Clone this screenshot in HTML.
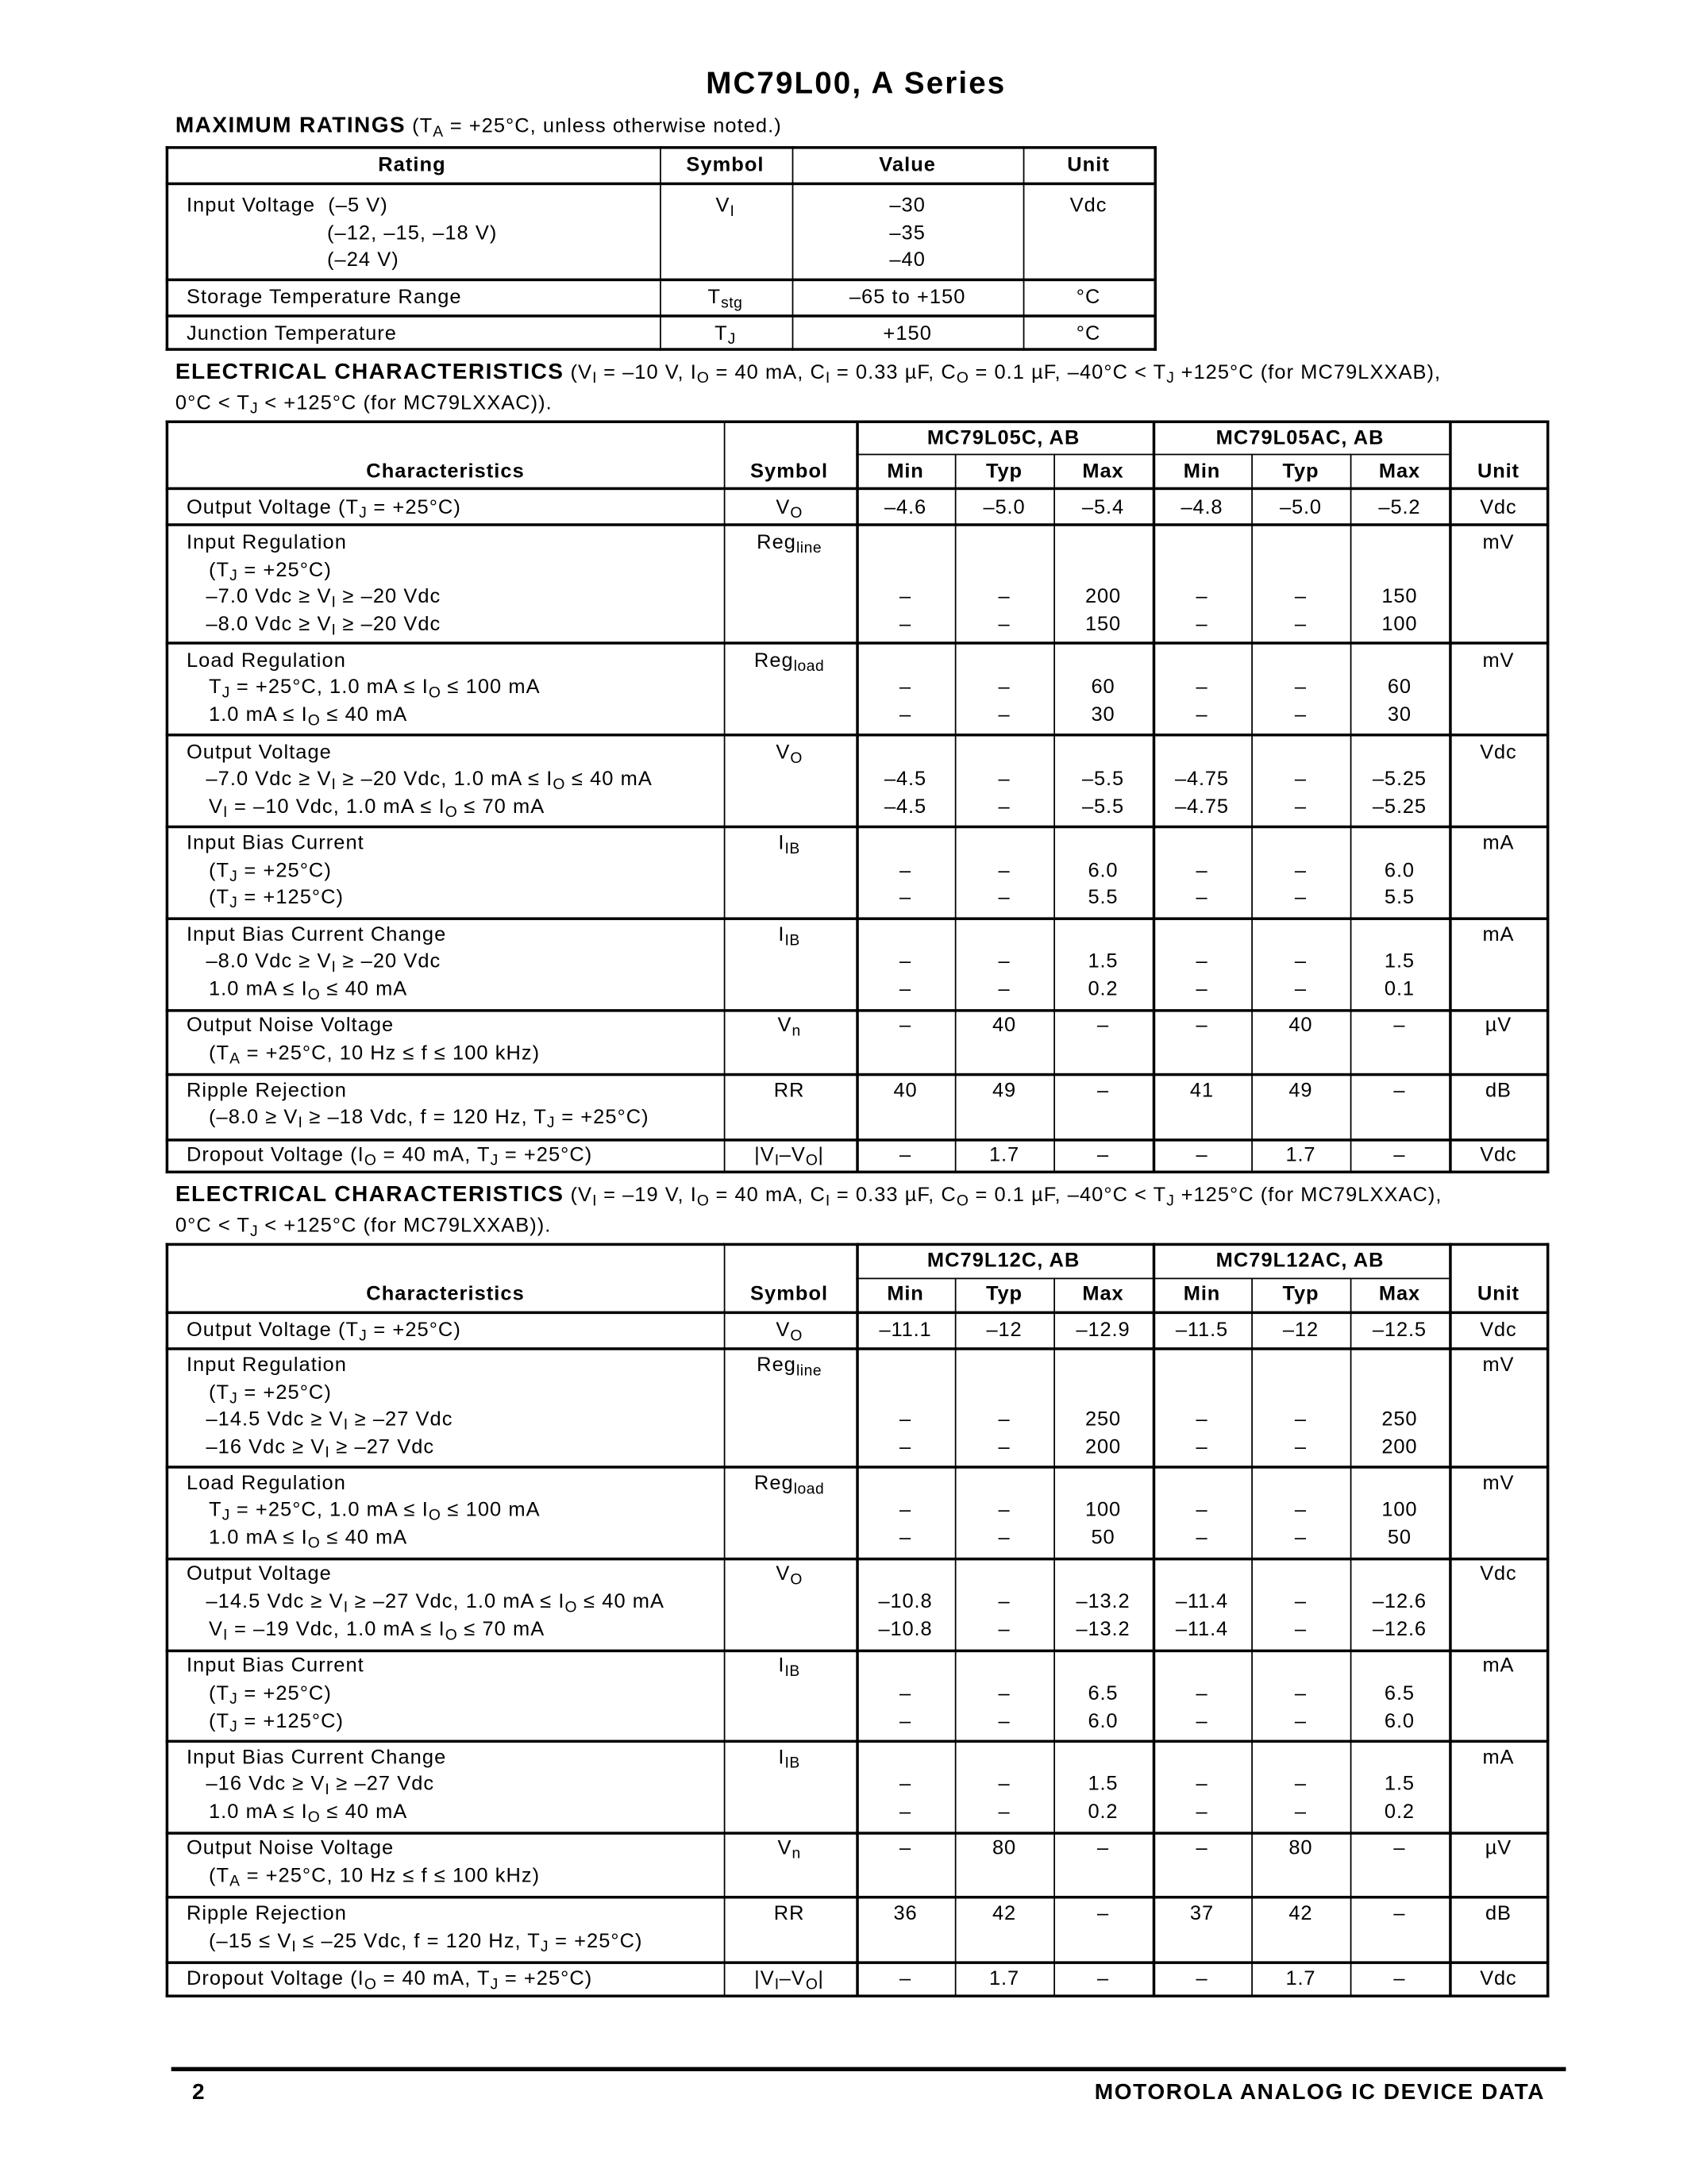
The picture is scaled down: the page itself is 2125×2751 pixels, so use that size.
<!DOCTYPE html>
<html><head><meta charset="utf-8">
<style>
html,body{margin:0;padding:0;background:#fff;}
body{width:2125px;height:2750px;overflow:hidden;position:relative;}
#p{position:absolute;left:0;top:0;width:1212px;height:1569px;transform:scale(1.7533);transform-origin:0 0;font-family:"Liberation Sans",Arial,sans-serif;color:#000;}
.t{position:absolute;white-space:nowrap;line-height:20px;height:20px;font-size:14.5px;letter-spacing:0.6px;}
.c{transform:translateX(-50%);}
.b{font-weight:bold;}
.h{position:absolute;height:1.3px;background:#000;}
.H{position:absolute;height:1.9px;background:#000;}
.v{position:absolute;width:1px;background:#000;}
.V{position:absolute;width:1.5px;background:#000;}
sub{font-size:11px;vertical-align:-3px;line-height:0;letter-spacing:0.3px;}
.r{position:absolute;left:615px;display:flex;line-height:20px;height:20px;font-size:14.5px;letter-spacing:0.5px;white-space:nowrap;}
.r span{width:71px;text-align:center;display:block;}
</style></head><body><div id="p">

<div class="t b c" style="left:615px;top:47px;font-size:22px;letter-spacing:1.2px;line-height:26px;height:26px;">MC79L00, A Series</div>

<div class="t" style="left:126px;top:81px;"><span class="b" style="font-size:16px;letter-spacing:0.8px;">MAXIMUM RATINGS</span> (T<sub>A</sub> = +25°C, unless otherwise noted.)</div>

<!-- Table 1 -->
<div class="H" style="left:119px;top:105px;width:712px;"></div>
<div class="H" style="left:119px;top:131px;width:712px;"></div>
<div class="H" style="left:119px;top:200px;width:712px;"></div>
<div class="H" style="left:119px;top:226px;width:712px;"></div>
<div class="H" style="left:119px;top:250px;width:712px;"></div>
<div class="V" style="left:119px;top:105px;height:147px;"></div>
<div class="v" style="left:474px;top:105px;height:147px;"></div>
<div class="v" style="left:569px;top:105px;height:147px;"></div>
<div class="v" style="left:735px;top:105px;height:147px;"></div>
<div class="V" style="left:829px;top:105px;height:147px;"></div>

<div class="t b c" style="left:296px;top:109px;">Rating</div>
<div class="t b c" style="left:521px;top:109px;">Symbol</div>
<div class="t b c" style="left:652px;top:109px;">Value</div>
<div class="t b c" style="left:782px;top:109px;">Unit</div>

<div class="t" style="left:134px;top:138px;">Input Voltage&nbsp; (–5 V)</div>
<div class="t" style="left:235px;top:158px;">(–12, –15, –18 V)</div>
<div class="t" style="left:235px;top:177px;">(–24 V)</div>
<div class="t c" style="left:521px;top:138px;">V<sub>I</sub></div>
<div class="t c" style="left:652px;top:138px;">–30</div>
<div class="t c" style="left:652px;top:158px;">–35</div>
<div class="t c" style="left:652px;top:177px;">–40</div>
<div class="t c" style="left:782px;top:138px;">Vdc</div>

<div class="t" style="left:134px;top:204px;">Storage Temperature Range</div>
<div class="t c" style="left:521px;top:204px;">T<sub>stg</sub></div>
<div class="t c" style="left:652px;top:204px;">–65 to +150</div>
<div class="t c" style="left:782px;top:204px;">°C</div>

<div class="t" style="left:134px;top:230px;">Junction Temperature</div>
<div class="t c" style="left:521px;top:230px;">T<sub>J</sub></div>
<div class="t c" style="left:652px;top:230px;">+150</div>
<div class="t c" style="left:782px;top:230px;">°C</div>

<div class="t" style="left:126px;top:258px;"><span class="b" style="font-size:16px;letter-spacing:0.8px;">ELECTRICAL CHARACTERISTICS</span> (V<sub>I</sub> = –10 V, I<sub>O</sub> = 40 mA, C<sub>I</sub> = 0.33 µF, C<sub>O</sub> = 0.1 µF, –40°C &lt; T<sub>J</sub> +125°C (for MC79LXXAB),</div>
<div class="t" style="left:126px;top:280px;">0°C &lt; T<sub>J</sub> &lt; +125°C (for MC79LXXAC)).</div>

<!-- Table 2 -->
<div class="H" style="left:119px;top:302px;width:994px;"></div>
<div class="h" style="left:615px;top:326px;width:426px;"></div>
<div class="H" style="left:119px;top:350px;width:994px;"></div>
<div class="H" style="left:119px;top:376px;width:994px;"></div>
<div class="H" style="left:119px;top:461px;width:994px;"></div>
<div class="H" style="left:119px;top:527px;width:994px;"></div>
<div class="H" style="left:119px;top:593px;width:994px;"></div>
<div class="H" style="left:119px;top:659px;width:994px;"></div>
<div class="H" style="left:119px;top:725px;width:994px;"></div>
<div class="H" style="left:119px;top:771px;width:994px;"></div>
<div class="H" style="left:119px;top:818px;width:994px;"></div>
<div class="H" style="left:119px;top:841px;width:994px;"></div>
<div class="V" style="left:119px;top:302px;height:541px;"></div>
<div class="v" style="left:520px;top:302px;height:541px;"></div>
<div class="V" style="left:615px;top:302px;height:541px;"></div>
<div class="v" style="left:686px;top:326px;height:517px;"></div>
<div class="v" style="left:757px;top:326px;height:517px;"></div>
<div class="V" style="left:828px;top:302px;height:541px;"></div>
<div class="v" style="left:899px;top:326px;height:517px;"></div>
<div class="v" style="left:970px;top:326px;height:517px;"></div>
<div class="V" style="left:1041px;top:302px;height:541px;"></div>
<div class="V" style="left:1111px;top:302px;height:541px;"></div>

<div class="t b c" style="left:721px;top:305px;">MC79L05C, AB</div>
<div class="t b c" style="left:934px;top:305px;">MC79L05AC, AB</div>
<div class="t b c" style="left:320px;top:329px;">Characteristics</div>
<div class="t b c" style="left:567px;top:329px;">Symbol</div>
<div class="r b" style="top:329px;"><span>Min</span><span>Typ</span><span>Max</span><span>Min</span><span>Typ</span><span>Max</span><span>Unit</span></div>

<div class="t" style="left:134px;top:355px;">Output Voltage (T<sub>J</sub> = +25°C)</div>
<div class="t c" style="left:567px;top:355px;">V<sub>O</sub></div>
<div class="r" style="top:355px;"><span>–4.6</span><span>–5.0</span><span>–5.4</span><span>–4.8</span><span>–5.0</span><span>–5.2</span><span>Vdc</span></div>

<div class="t" style="left:134px;top:380px;">Input Regulation</div>
<div class="t" style="left:150px;top:400px;">(T<sub>J</sub> = +25°C)</div>
<div class="t" style="left:148px;top:419px;">–7.0 Vdc ≥ V<sub>I</sub> ≥ –20 Vdc</div>
<div class="t" style="left:148px;top:439px;">–8.0 Vdc ≥ V<sub>I</sub> ≥ –20 Vdc</div>
<div class="t c" style="left:567px;top:380px;">Reg<sub>line</sub></div>
<div class="r" style="top:380px;"><span></span><span></span><span></span><span></span><span></span><span></span><span>mV</span></div>
<div class="r" style="top:419px;"><span>–</span><span>–</span><span>200</span><span>–</span><span>–</span><span>150</span><span></span></div>
<div class="r" style="top:439px;"><span>–</span><span>–</span><span>150</span><span>–</span><span>–</span><span>100</span><span></span></div>

<div class="t" style="left:134px;top:465px;">Load Regulation</div>
<div class="t" style="left:150px;top:484px;">T<sub>J</sub> = +25°C, 1.0 mA ≤ I<sub>O</sub> ≤ 100 mA</div>
<div class="t" style="left:150px;top:504px;">1.0 mA ≤ I<sub>O</sub> ≤ 40 mA</div>
<div class="t c" style="left:567px;top:465px;">Reg<sub>load</sub></div>
<div class="r" style="top:465px;"><span></span><span></span><span></span><span></span><span></span><span></span><span>mV</span></div>
<div class="r" style="top:484px;"><span>–</span><span>–</span><span>60</span><span>–</span><span>–</span><span>60</span><span></span></div>
<div class="r" style="top:504px;"><span>–</span><span>–</span><span>30</span><span>–</span><span>–</span><span>30</span><span></span></div>

<div class="t" style="left:134px;top:531px;">Output Voltage</div>
<div class="t" style="left:148px;top:550px;">–7.0 Vdc ≥ V<sub>I</sub> ≥ –20 Vdc, 1.0 mA ≤ I<sub>O</sub> ≤ 40 mA</div>
<div class="t" style="left:150px;top:570px;">V<sub>I</sub> = –10 Vdc, 1.0 mA ≤ I<sub>O</sub> ≤ 70 mA</div>
<div class="t c" style="left:567px;top:531px;">V<sub>O</sub></div>
<div class="r" style="top:531px;"><span></span><span></span><span></span><span></span><span></span><span></span><span>Vdc</span></div>
<div class="r" style="top:550px;"><span>–4.5</span><span>–</span><span>–5.5</span><span>–4.75</span><span>–</span><span>–5.25</span><span></span></div>
<div class="r" style="top:570px;"><span>–4.5</span><span>–</span><span>–5.5</span><span>–4.75</span><span>–</span><span>–5.25</span><span></span></div>

<div class="t" style="left:134px;top:596px;">Input Bias Current</div>
<div class="t" style="left:150px;top:616px;">(T<sub>J</sub> = +25°C)</div>
<div class="t" style="left:150px;top:635px;">(T<sub>J</sub> = +125°C)</div>
<div class="t c" style="left:567px;top:596px;">I<sub>IB</sub></div>
<div class="r" style="top:596px;"><span></span><span></span><span></span><span></span><span></span><span></span><span>mA</span></div>
<div class="r" style="top:616px;"><span>–</span><span>–</span><span>6.0</span><span>–</span><span>–</span><span>6.0</span><span></span></div>
<div class="r" style="top:635px;"><span>–</span><span>–</span><span>5.5</span><span>–</span><span>–</span><span>5.5</span><span></span></div>

<div class="t" style="left:134px;top:662px;">Input Bias Current Change</div>
<div class="t" style="left:148px;top:681px;">–8.0 Vdc ≥ V<sub>I</sub> ≥ –20 Vdc</div>
<div class="t" style="left:150px;top:701px;">1.0 mA ≤ I<sub>O</sub> ≤ 40 mA</div>
<div class="t c" style="left:567px;top:662px;">I<sub>IB</sub></div>
<div class="r" style="top:662px;"><span></span><span></span><span></span><span></span><span></span><span></span><span>mA</span></div>
<div class="r" style="top:681px;"><span>–</span><span>–</span><span>1.5</span><span>–</span><span>–</span><span>1.5</span><span></span></div>
<div class="r" style="top:701px;"><span>–</span><span>–</span><span>0.2</span><span>–</span><span>–</span><span>0.1</span><span></span></div>

<div class="t" style="left:134px;top:727px;">Output Noise Voltage</div>
<div class="t" style="left:150px;top:747px;">(T<sub>A</sub> = +25°C, 10 Hz ≤ f ≤ 100 kHz)</div>
<div class="t c" style="left:567px;top:727px;">V<sub>n</sub></div>
<div class="r" style="top:727px;"><span>–</span><span>40</span><span>–</span><span>–</span><span>40</span><span>–</span><span>µV</span></div>

<div class="t" style="left:134px;top:774px;">Ripple Rejection</div>
<div class="t" style="left:150px;top:793px;">(–8.0 ≥ V<sub>I</sub> ≥ –18 Vdc, f = 120 Hz, T<sub>J</sub> = +25°C)</div>
<div class="t c" style="left:567px;top:774px;">RR</div>
<div class="r" style="top:774px;"><span>40</span><span>49</span><span>–</span><span>41</span><span>49</span><span>–</span><span>dB</span></div>

<div class="t" style="left:134px;top:820px;">Dropout Voltage (I<sub>O</sub> = 40 mA, T<sub>J</sub> = +25°C)</div>
<div class="t c" style="left:567px;top:820px;">|V<sub>I</sub>–V<sub>O</sub>|</div>
<div class="r" style="top:820px;"><span>–</span><span>1.7</span><span>–</span><span>–</span><span>1.7</span><span>–</span><span>Vdc</span></div>

<div class="t" style="left:126px;top:849px;"><span class="b" style="font-size:16px;letter-spacing:0.8px;">ELECTRICAL CHARACTERISTICS</span> (V<sub>I</sub> = –19 V, I<sub>O</sub> = 40 mA, C<sub>I</sub> = 0.33 µF, C<sub>O</sub> = 0.1 µF, –40°C &lt; T<sub>J</sub> +125°C (for MC79LXXAC),</div>
<div class="t" style="left:126px;top:871px;">0°C &lt; T<sub>J</sub> &lt; +125°C (for MC79LXXAB)).</div>

<!-- Table 3 -->
<div class="H" style="left:119px;top:893px;width:994px;"></div>
<div class="h" style="left:615px;top:918px;width:426px;"></div>
<div class="H" style="left:119px;top:942px;width:994px;"></div>
<div class="H" style="left:119px;top:968px;width:994px;"></div>
<div class="H" style="left:119px;top:1053px;width:994px;"></div>
<div class="H" style="left:119px;top:1119px;width:994px;"></div>
<div class="H" style="left:119px;top:1185px;width:994px;"></div>
<div class="H" style="left:119px;top:1250px;width:994px;"></div>
<div class="H" style="left:119px;top:1316px;width:994px;"></div>
<div class="H" style="left:119px;top:1362px;width:994px;"></div>
<div class="H" style="left:119px;top:1409px;width:994px;"></div>
<div class="H" style="left:119px;top:1433px;width:994px;"></div>
<div class="V" style="left:119px;top:893px;height:542px;"></div>
<div class="v" style="left:520px;top:893px;height:542px;"></div>
<div class="V" style="left:615px;top:893px;height:542px;"></div>
<div class="v" style="left:686px;top:918px;height:517px;"></div>
<div class="v" style="left:757px;top:918px;height:517px;"></div>
<div class="V" style="left:828px;top:893px;height:542px;"></div>
<div class="v" style="left:899px;top:918px;height:517px;"></div>
<div class="v" style="left:970px;top:918px;height:517px;"></div>
<div class="V" style="left:1041px;top:893px;height:542px;"></div>
<div class="V" style="left:1111px;top:893px;height:542px;"></div>

<div class="t b c" style="left:721px;top:896px;">MC79L12C, AB</div>
<div class="t b c" style="left:934px;top:896px;">MC79L12AC, AB</div>
<div class="t b c" style="left:320px;top:920px;">Characteristics</div>
<div class="t b c" style="left:567px;top:920px;">Symbol</div>
<div class="r b" style="top:920px;"><span>Min</span><span>Typ</span><span>Max</span><span>Min</span><span>Typ</span><span>Max</span><span>Unit</span></div>

<div class="t" style="left:134px;top:946px;">Output Voltage (T<sub>J</sub> = +25°C)</div>
<div class="t c" style="left:567px;top:946px;">V<sub>O</sub></div>
<div class="r" style="top:946px;"><span>–11.1</span><span>–12</span><span>–12.9</span><span>–11.5</span><span>–12</span><span>–12.5</span><span>Vdc</span></div>

<div class="t" style="left:134px;top:971px;">Input Regulation</div>
<div class="t" style="left:150px;top:991px;">(T<sub>J</sub> = +25°C)</div>
<div class="t" style="left:148px;top:1010px;">–14.5 Vdc ≥ V<sub>I</sub> ≥ –27 Vdc</div>
<div class="t" style="left:148px;top:1030px;">–16 Vdc ≥ V<sub>I</sub> ≥ –27 Vdc</div>
<div class="t c" style="left:567px;top:971px;">Reg<sub>line</sub></div>
<div class="r" style="top:971px;"><span></span><span></span><span></span><span></span><span></span><span></span><span>mV</span></div>
<div class="r" style="top:1010px;"><span>–</span><span>–</span><span>250</span><span>–</span><span>–</span><span>250</span><span></span></div>
<div class="r" style="top:1030px;"><span>–</span><span>–</span><span>200</span><span>–</span><span>–</span><span>200</span><span></span></div>

<div class="t" style="left:134px;top:1056px;">Load Regulation</div>
<div class="t" style="left:150px;top:1075px;">T<sub>J</sub> = +25°C, 1.0 mA ≤ I<sub>O</sub> ≤ 100 mA</div>
<div class="t" style="left:150px;top:1095px;">1.0 mA ≤ I<sub>O</sub> ≤ 40 mA</div>
<div class="t c" style="left:567px;top:1056px;">Reg<sub>load</sub></div>
<div class="r" style="top:1056px;"><span></span><span></span><span></span><span></span><span></span><span></span><span>mV</span></div>
<div class="r" style="top:1075px;"><span>–</span><span>–</span><span>100</span><span>–</span><span>–</span><span>100</span><span></span></div>
<div class="r" style="top:1095px;"><span>–</span><span>–</span><span>50</span><span>–</span><span>–</span><span>50</span><span></span></div>

<div class="t" style="left:134px;top:1121px;">Output Voltage</div>
<div class="t" style="left:148px;top:1141px;">–14.5 Vdc ≥ V<sub>I</sub> ≥ –27 Vdc, 1.0 mA ≤ I<sub>O</sub> ≤ 40 mA</div>
<div class="t" style="left:150px;top:1161px;">V<sub>I</sub> = –19 Vdc, 1.0 mA ≤ I<sub>O</sub> ≤ 70 mA</div>
<div class="t c" style="left:567px;top:1121px;">V<sub>O</sub></div>
<div class="r" style="top:1121px;"><span></span><span></span><span></span><span></span><span></span><span></span><span>Vdc</span></div>
<div class="r" style="top:1141px;"><span>–10.8</span><span>–</span><span>–13.2</span><span>–11.4</span><span>–</span><span>–12.6</span><span></span></div>
<div class="r" style="top:1161px;"><span>–10.8</span><span>–</span><span>–13.2</span><span>–11.4</span><span>–</span><span>–12.6</span><span></span></div>

<div class="t" style="left:134px;top:1187px;">Input Bias Current</div>
<div class="t" style="left:150px;top:1207px;">(T<sub>J</sub> = +25°C)</div>
<div class="t" style="left:150px;top:1227px;">(T<sub>J</sub> = +125°C)</div>
<div class="t c" style="left:567px;top:1187px;">I<sub>IB</sub></div>
<div class="r" style="top:1187px;"><span></span><span></span><span></span><span></span><span></span><span></span><span>mA</span></div>
<div class="r" style="top:1207px;"><span>–</span><span>–</span><span>6.5</span><span>–</span><span>–</span><span>6.5</span><span></span></div>
<div class="r" style="top:1227px;"><span>–</span><span>–</span><span>6.0</span><span>–</span><span>–</span><span>6.0</span><span></span></div>

<div class="t" style="left:134px;top:1253px;">Input Bias Current Change</div>
<div class="t" style="left:148px;top:1272px;">–16 Vdc ≥ V<sub>I</sub> ≥ –27 Vdc</div>
<div class="t" style="left:150px;top:1292px;">1.0 mA ≤ I<sub>O</sub> ≤ 40 mA</div>
<div class="t c" style="left:567px;top:1253px;">I<sub>IB</sub></div>
<div class="r" style="top:1253px;"><span></span><span></span><span></span><span></span><span></span><span></span><span>mA</span></div>
<div class="r" style="top:1272px;"><span>–</span><span>–</span><span>1.5</span><span>–</span><span>–</span><span>1.5</span><span></span></div>
<div class="r" style="top:1292px;"><span>–</span><span>–</span><span>0.2</span><span>–</span><span>–</span><span>0.2</span><span></span></div>

<div class="t" style="left:134px;top:1318px;">Output Noise Voltage</div>
<div class="t" style="left:150px;top:1338px;">(T<sub>A</sub> = +25°C, 10 Hz ≤ f ≤ 100 kHz)</div>
<div class="t c" style="left:567px;top:1318px;">V<sub>n</sub></div>
<div class="r" style="top:1318px;"><span>–</span><span>80</span><span>–</span><span>–</span><span>80</span><span>–</span><span>µV</span></div>

<div class="t" style="left:134px;top:1365px;">Ripple Rejection</div>
<div class="t" style="left:150px;top:1385px;">(–15 ≤ V<sub>I</sub> ≤ –25 Vdc, f = 120 Hz, T<sub>J</sub> = +25°C)</div>
<div class="t c" style="left:567px;top:1365px;">RR</div>
<div class="r" style="top:1365px;"><span>36</span><span>42</span><span>–</span><span>37</span><span>42</span><span>–</span><span>dB</span></div>

<div class="t" style="left:134px;top:1412px;">Dropout Voltage (I<sub>O</sub> = 40 mA, T<sub>J</sub> = +25°C)</div>
<div class="t c" style="left:567px;top:1412px;">|V<sub>I</sub>–V<sub>O</sub>|</div>
<div class="r" style="top:1412px;"><span>–</span><span>1.7</span><span>–</span><span>–</span><span>1.7</span><span>–</span><span>Vdc</span></div>

<!-- Footer -->
<div style="position:absolute;left:123px;top:1484.5px;width:1002px;height:3.4px;background:#000;"></div>
<div class="t b" style="left:138px;top:1494px;font-size:16px;">2</div>
<div class="t b" style="right:102px;top:1494px;font-size:16px;letter-spacing:0.9px;">MOTOROLA ANALOG IC DEVICE DATA</div>

</div></body></html>
